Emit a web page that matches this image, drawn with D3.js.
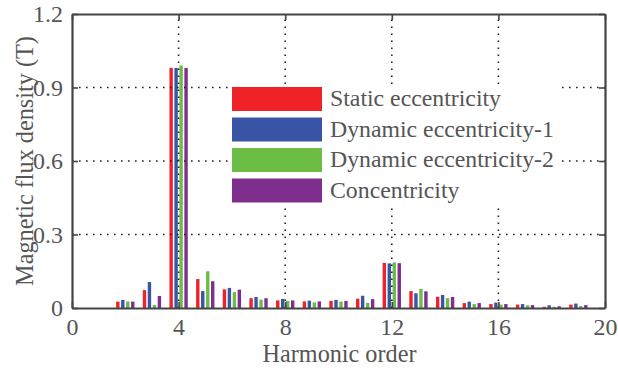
<!DOCTYPE html>
<html>
<head>
<meta charset="utf-8">
<script src="https://cdn.jsdelivr.net/npm/d3@7"></script>
<style>
  body { margin: 0; background: #fff; }
  svg { display: block; }
</style>
</head>
<body>
<svg id="chart" width="618" height="372"></svg>
<script>
// ---- data ----
const harmonics = [2, 3, 4, 5, 6, 7, 8, 9, 10, 11, 12, 13, 14, 15, 16, 17, 18, 19];
const seriesNames = ["Static eccentricity", "Dynamic eccentricity-1", "Dynamic eccentricity-2", "Concentricity"];
const staticEcc   = [0.026, 0.073, 0.980, 0.118, 0.076, 0.040, 0.031, 0.027, 0.029, 0.038, 0.184, 0.069, 0.046, 0.020, 0.016, 0.014, 0.005, 0.014];
const dynamicEcc1 = [0.033, 0.106, 0.980, 0.069, 0.082, 0.045, 0.037, 0.030, 0.033, 0.050, 0.182, 0.060, 0.053, 0.026, 0.022, 0.016, 0.011, 0.018];
const dynamicEcc2 = [0.027, 0.012, 0.990, 0.150, 0.065, 0.034, 0.029, 0.023, 0.026, 0.021, 0.186, 0.078, 0.040, 0.016, 0.014, 0.011, 0.005, 0.008];
const concentric  = [0.026, 0.049, 0.980, 0.109, 0.075, 0.040, 0.031, 0.027, 0.029, 0.036, 0.183, 0.068, 0.045, 0.020, 0.016, 0.012, 0.007, 0.012];
const xTicks = [0, 4, 8, 12, 16, 20];
const yTicks = [0, 0.3, 0.6, 0.9, 1.2];
const colors = ["#ee2227", "#3a55a5", "#6cbd45", "#7e2f8e"];

const allSeries = [staticEcc, dynamicEcc1, dynamicEcc2, concentric];
const FONT = '"Liberation Serif"';
const BASE = 21;          // render size (serif face renders reliably here); enlarged by transform
const TXT = "#555";

// ---- layout ----
const svg = d3.select("#chart");
const L = 72, R = 605, T = 14, B = 308;
const x = d3.scaleLinear().domain([0, 20]).range([L, R]);
const y = d3.scaleLinear().domain([0, 1.2]).range([B, T]);
const offsets = [-0.28, -0.094, 0.094, 0.28];
const barW = 3.4;

function styleText(sel) {
  return sel.style("font-family", FONT).style("font-size", BASE + "px").style("fill", TXT);
}
function scaleToWidth(sel, target) {
  const w = sel.node().getComputedTextLength();
  return w > 0 ? target / w : 1;
}

// bars
allSeries.forEach((vals, si) => {
  svg.append("g").selectAll("rect")
    .data(harmonics.map((h, i) => ({ h, v: vals[i] })))
    .join("rect")
    .attr("x", d => x(d.h + offsets[si]) - barW / 2)
    .attr("y", d => y(d.v))
    .attr("width", barW)
    .attr("height", d => y(0) - y(d.v))
    .attr("fill", colors[si]);
});

// grid lines
const grid = svg.append("g").attr("stroke", "#222").attr("stroke-width", 1.6)
  .attr("stroke-dasharray", "1.6,5.4");
xTicks.filter(t => t > 0 && t < 20).forEach(t => {
  grid.append("line").attr("x1", x(t)).attr("x2", x(t)).attr("y1", B).attr("y2", T);
});
yTicks.filter(t => t > 0 && t < 1.2).forEach(t => {
  grid.append("line").attr("x1", L).attr("x2", R).attr("y1", y(t)).attr("y2", y(t));
});

// legend
const lg = svg.append("g");
lg.append("rect").attr("x", 228).attr("y", 84).attr("width", 330).attr("height", 121).attr("fill", "#fff");
const legendTexts = [];
seriesNames.forEach((name, i) => {
  const yy = 87 + i * 30.5;
  lg.append("rect").attr("x", 232).attr("y", yy).attr("width", 90).attr("height", 24).attr("fill", colors[i]);
  legendTexts.push(styleText(lg.append("text")).attr("data-y", yy + 19).text(name));
});
const lgScale = scaleToWidth(legendTexts[1], 224);
legendTexts.forEach(t => t.attr("transform", `translate(330,${t.attr("data-y")}) scale(${lgScale})`));

// axes (inward ticks, framed box)
const axisColor = "#444";
const tickScale = 1.14;
const xAxis = svg.append("g").attr("transform", `translate(0,${B})`)
  .call(d3.axisBottom(x).tickValues(xTicks).tickSizeInner(-6).tickSizeOuter(0).tickFormat(d3.format("d")));
const xAxisTop = svg.append("g").attr("transform", `translate(0,${T})`)
  .call(d3.axisTop(x).tickValues(xTicks).tickSizeInner(-6).tickSizeOuter(0).tickFormat(""));
const yAxis = svg.append("g").attr("transform", `translate(${L},0)`)
  .call(d3.axisLeft(y).tickValues(yTicks).tickSizeInner(-6).tickSizeOuter(0).tickFormat(d => d === 0 ? "0" : d3.format(".1f")(d)));
const yAxisRight = svg.append("g").attr("transform", `translate(${R},0)`)
  .call(d3.axisRight(y).tickValues(yTicks).tickSizeInner(-6).tickSizeOuter(0).tickFormat(""));
[xAxis, xAxisTop, yAxis, yAxisRight].forEach(g => {
  g.attr("font-family", null).attr("font-size", null);
  g.select(".domain").attr("stroke", axisColor).attr("stroke-width", 2.2);
  g.selectAll(".tick line").attr("stroke", axisColor).attr("stroke-width", 1.6);
  styleText(g.selectAll(".tick text"));
});
xAxis.selectAll(".tick text").attr("x", 0).attr("y", 0).attr("dy", null)
  .attr("transform", `translate(0,27) scale(${tickScale})`);
yAxis.selectAll(".tick text").attr("x", 0).attr("y", 0).attr("dy", "0.33em")
  .attr("transform", `translate(-9,0) scale(${tickScale})`);

// axis titles
const xt = styleText(svg.append("text")).attr("text-anchor", "middle").text("Harmonic order");
xt.attr("transform", `translate(${(L + R) / 2 + 1},362) scale(${scaleToWidth(xt, 154)})`);
const yt = styleText(svg.append("text")).attr("text-anchor", "middle").text("Magnetic flux density (T)");
yt.attr("transform", `translate(33,${(T + B) / 2}) rotate(-90) scale(${scaleToWidth(yt, 250)})`);
</script>
</body>
</html>
